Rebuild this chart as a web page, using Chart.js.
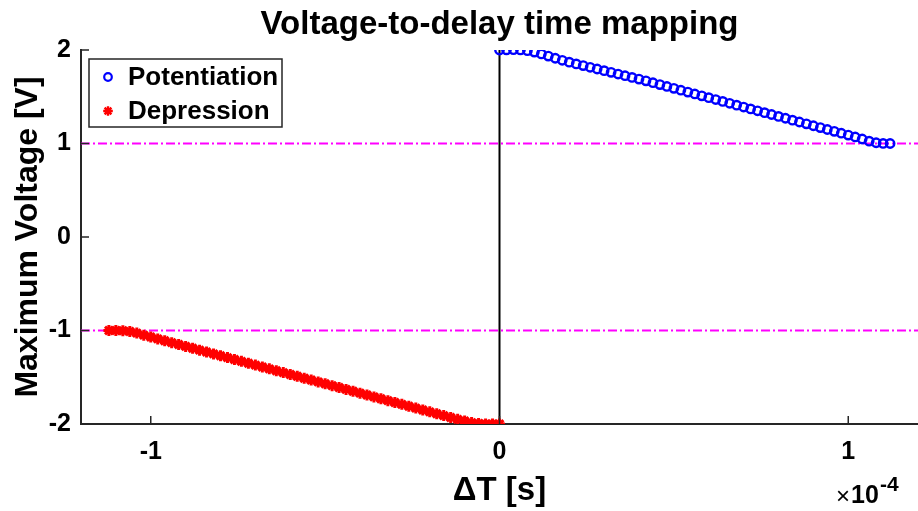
<!DOCTYPE html>
<html>
<head>
<meta charset="utf-8">
<script src="https://cdn.jsdelivr.net/npm/chart.js@4/dist/chart.umd.min.js"></script>
<style>
  html, body { margin: 0; padding: 0; background: #fff; }
  #wrap { width: 918px; height: 511px; }
</style>
</head>
<body>
<div id="wrap"><canvas id="mapChart" width="918" height="511"></canvas></div>
<script>
// delay values are in units of 1e-4 s (axis shows x10^-4)
const potDelay = [
  0.00, 0.02, 0.04, 0.06, 0.08, 0.10, 0.12, 0.14, 0.16, 0.18,
  0.20, 0.22, 0.24, 0.26, 0.28, 0.30, 0.32, 0.34, 0.36, 0.38,
  0.40, 0.42, 0.44, 0.46, 0.48, 0.50, 0.52, 0.54, 0.56, 0.58,
  0.60, 0.62, 0.64, 0.66, 0.68, 0.70, 0.72, 0.74, 0.76, 0.78,
  0.80, 0.82, 0.84, 0.86, 0.88, 0.90, 0.92, 0.94, 0.96, 0.98,
  1.00, 1.02, 1.04, 1.06, 1.08, 1.10, 1.12
];
const potVoltage = [
  2.000, 2.002, 2.003, 2.001, 1.993, 1.978, 1.958, 1.935, 1.912, 1.890,
  1.870, 1.851, 1.833, 1.815, 1.797, 1.779, 1.761, 1.743, 1.725, 1.707,
  1.689, 1.670, 1.650, 1.630, 1.610, 1.590, 1.570, 1.550, 1.530, 1.510,
  1.490, 1.470, 1.450, 1.430, 1.410, 1.390, 1.370, 1.350, 1.330, 1.310,
  1.290, 1.270, 1.250, 1.230, 1.210, 1.190, 1.170, 1.150, 1.130, 1.110,
  1.090, 1.070, 1.048, 1.025, 1.008, 1.001, 1.000
];
const depDelay = [
  -1.12, -1.10, -1.08, -1.06, -1.04, -1.02, -1.00, -0.98, -0.96, -0.94,
  -0.92, -0.90, -0.88, -0.86, -0.84, -0.82, -0.80, -0.78, -0.76, -0.74,
  -0.72, -0.70, -0.68, -0.66, -0.64, -0.62, -0.60, -0.58, -0.56, -0.54,
  -0.52, -0.50, -0.48, -0.46, -0.44, -0.42, -0.40, -0.38, -0.36, -0.34,
  -0.32, -0.30, -0.28, -0.26, -0.24, -0.22, -0.20, -0.18, -0.16, -0.14,
  -0.12, -0.10, -0.08, -0.06, -0.04, -0.02, 0.00
];
const depVoltage = [
  -1.000, -1.000, -1.002, -1.010, -1.028, -1.050, -1.070, -1.090, -1.110, -1.130,
  -1.150, -1.170, -1.190, -1.210, -1.230, -1.250, -1.270, -1.290, -1.310, -1.330,
  -1.350, -1.370, -1.390, -1.410, -1.430, -1.450, -1.470, -1.490, -1.510, -1.530,
  -1.550, -1.570, -1.590, -1.610, -1.630, -1.650, -1.670, -1.690, -1.710, -1.730,
  -1.750, -1.770, -1.790, -1.810, -1.830, -1.850, -1.870, -1.890, -1.910, -1.930,
  -1.950, -1.968, -1.985, -1.995, -2.000, -2.000, -2.000
];
const xTicks = [-1, 0, 1];
const yTicks = [-2, -1, 0, 1, 2];
const thresholds = [1, -1];
const xRange = [-1.2, 1.2];
const yRange = [-2, 2];

const FONT = "'Liberation Sans', Arial, sans-serif";
const AXIS_COLOR = "#262626";

function toPoints(xs, ys) {
  return xs.map((x, i) => ({ x: x, y: ys[i] }));
}

// title over the plot, legend box, inward tick marks, x10^-4 exponent
const decorPlugin = {
  id: "decor",
  afterDraw(chart) {
    const ctx = chart.ctx;
    const xs = chart.scales.x;
    const ys = chart.scales.y;
    const area = chart.chartArea;

    ctx.save();
    ctx.fillStyle = "#000";
    ctx.font = "bold 33px " + FONT;
    ctx.textAlign = "center";
    ctx.textBaseline = "middle";
    ctx.fillText("Voltage-to-delay time mapping", (area.left + area.right) / 2, 25);

    ctx.strokeStyle = AXIS_COLOR;
    ctx.lineWidth = 1.5;
    ctx.beginPath();
    for (const t of xTicks) {
      const px = xs.getPixelForValue(t);
      ctx.moveTo(px, area.bottom);
      ctx.lineTo(px, area.bottom - 8);
    }
    for (const t of yTicks) {
      const py = ys.getPixelForValue(t);
      ctx.moveTo(area.left, py);
      ctx.lineTo(area.left + 8, py);
    }
    ctx.stroke();

    // legend
    const lx = area.left + 8, ly = area.top + 9, lw = 193, lh = 68;
    ctx.fillStyle = "#fff";
    ctx.fillRect(lx, ly, lw, lh);
    ctx.strokeStyle = AXIS_COLOR;
    ctx.lineWidth = 1.5;
    ctx.strokeRect(lx, ly, lw, lh);

    ctx.strokeStyle = "#0000ff";
    ctx.lineWidth = 2.2;
    ctx.beginPath();
    ctx.arc(lx + 19, ly + 18, 3.8, 0, Math.PI * 2);
    ctx.stroke();

    ctx.strokeStyle = "#ff0000";
    ctx.lineWidth = 2.4;
    const sx = lx + 19, sy = ly + 52, r = 4.8;
    ctx.beginPath();
    for (let k = 0; k < 4; k++) {
      const a = k * Math.PI / 4;
      ctx.moveTo(sx - r * Math.cos(a), sy - r * Math.sin(a));
      ctx.lineTo(sx + r * Math.cos(a), sy + r * Math.sin(a));
    }
    ctx.stroke();

    ctx.fillStyle = "#000";
    ctx.font = "bold 26px " + FONT;
    ctx.textAlign = "left";
    ctx.fillText("Potentiation", lx + 39, ly + 19);
    ctx.fillText("Depression", lx + 39, ly + 53);

    // exponent label
    ctx.font = "24px " + FONT;
    ctx.fillText("\u00d7", 836, 497);
    ctx.font = "bold 25px " + FONT;
    ctx.fillText("10", 851, 496);
    ctx.font = "bold 21px " + FONT;
    ctx.fillText("-4", 880, 485);
    ctx.restore();
  }
};

const ctx = document.getElementById("mapChart").getContext("2d");

new Chart(ctx, {
  type: "scatter",
  data: {
    datasets: [
      {
        label: "Potentiation",
        data: toPoints(potDelay, potVoltage),
        showLine: false,
        pointStyle: "circle",
        pointRadius: 4.2,
        pointBorderWidth: 2.4,
        pointBorderColor: "#0000ff",
        pointBackgroundColor: "rgba(0,0,0,0)",
      },
      {
        label: "Depression",
        data: toPoints(depDelay, depVoltage),
        showLine: false,
        pointStyle: "star",
        pointRadius: 5.5,
        pointBorderWidth: 3,
        pointBorderColor: "#ff0000",
        pointBackgroundColor: "#ff0000",
      },
      {
        label: "zero",
        data: [{ x: 0, y: yRange[0] }, { x: 0, y: yRange[1] }],
        showLine: true,
        borderColor: "#000",
        borderWidth: 2,
        pointRadius: 0,
      },
      ...thresholds.map((v) => ({
        label: "thr" + v,
        data: [{ x: xRange[0], y: v }, { x: xRange[1], y: v }],
        showLine: true,
        borderColor: "#ff00ff",
        borderWidth: 2,
        borderDash: [9, 3, 2, 3],
        pointRadius: 0,
      })),
    ],
  },
  options: {
    responsive: false,
    animation: false,
    events: [],
    layout: { autoPadding: false, padding: { top: 50, right: 0, bottom: 0, left: 0 } },
    plugins: {
      legend: { display: false },
      tooltip: { enabled: false },
      title: { display: false },
    },
    scales: {
      x: {
        type: "linear",
        min: xRange[0],
        max: xRange[1],
        afterBuildTicks: (scale) => {
          scale.ticks = xTicks.map((v) => ({ value: v }));
        },
        afterFit: (scale) => {
          scale.height = 87;
        },
        grid: { display: false, drawTicks: false },
        border: { display: true, color: AXIS_COLOR, width: 2 },
        ticks: {
          color: "#000",
          padding: 13,
          font: { family: FONT, size: 25, weight: "bold" },
        },
        title: {
          display: true,
          text: "\u0394T [s]",
          color: "#000",
          font: { family: FONT, size: 33, weight: "bold" },
          padding: { top: 0, bottom: 0 },
        },
      },
      y: {
        type: "linear",
        min: yRange[0],
        max: yRange[1],
        afterBuildTicks: (scale) => {
          scale.ticks = yTicks.map((v) => ({ value: v }));
        },
        afterFit: (scale) => {
          scale.width = 81;
        },
        grid: { display: false, drawTicks: false },
        border: { display: true, color: AXIS_COLOR, width: 2 },
        ticks: {
          color: "#000",
          padding: 10,
          font: { family: FONT, size: 25, weight: "bold" },
        },
        title: {
          display: true,
          text: "Maximum Voltage [V]",
          color: "#000",
          font: { family: FONT, size: 32, weight: "bold" },
          padding: { top: 9, bottom: 0 },
        },
      },
    },
  },
  plugins: [decorPlugin],
});
</script>
</body>
</html>
